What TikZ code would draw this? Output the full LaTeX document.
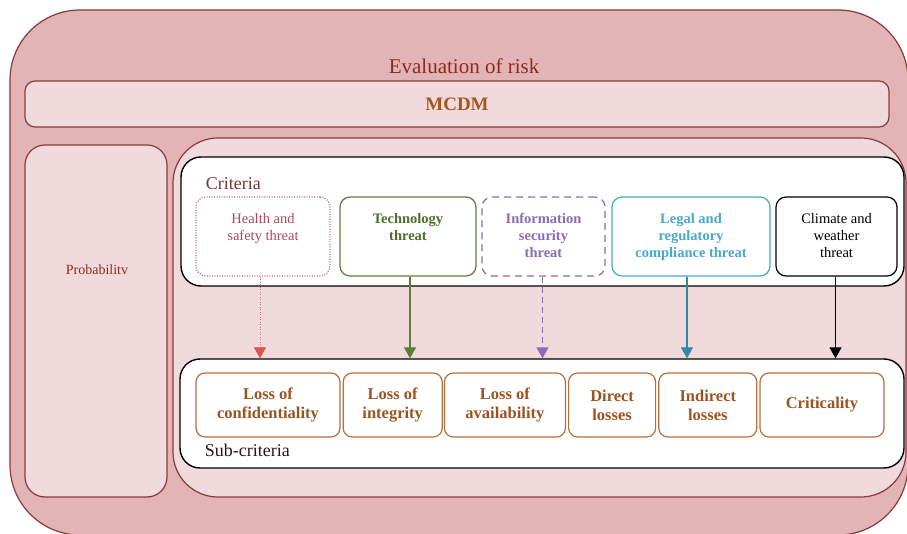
\documentclass[tikz,border=0pt]{standalone}
\usepackage{fontspec}
\setmainfont{Liberation Serif}
\usepackage{tikz}
\usetikzlibrary{arrows.meta,positioning}

\definecolor{riskpink}{HTML}{E3B4B6}
\definecolor{palepink}{HTML}{F1DADB}
\definecolor{riskline}{HTML}{8A3A3A}
\definecolor{risktext}{HTML}{8B2B20}
\definecolor{mcdmtext}{HTML}{A3561E}
\definecolor{healthcol}{HTML}{C46A78}
\definecolor{healthtxt}{HTML}{B04A5A}
\definecolor{healtharr}{HTML}{D9534F}
\definecolor{techcol}{HTML}{5C7D35}
\definecolor{techtxt}{HTML}{4E6E2A}
\definecolor{infocol}{HTML}{8B6BB8}
\definecolor{legalcol}{HTML}{45AACB}
\definecolor{legalarr}{HTML}{2E8BA8}
\definecolor{subcol}{HTML}{B5703F}
\definecolor{subtxt}{HTML}{9C5322}

\begin{document}
\begin{tikzpicture}[x=1pt,y=-1pt,>={Triangle[length=11pt,width=12pt]},line width=1.2pt]
	\tikzset{
		frame/.style={draw=riskline,fill=palepink,rounded corners=#1},
		group/.style={draw=black,fill=white,rounded corners=20pt,line width=1.4pt},
		critbox/.style={rounded corners=10pt,minimum height=79pt,fill=white},
		crittext/.style={align=center,inner sep=0pt,font=\fontsize{14.5}{17}\selectfont},
		subbox/.style={draw=subcol,rounded corners=9pt,minimum height=64pt,align=center,inner sep=0pt,
			font=\fontsize{16.5}{19}\selectfont\bfseries,text=subtxt}
	}
	\useasboundingbox (0,0) rectangle (907,534);
	\clip (0,0) rectangle (907,534);

	% outer and inner regions
	\draw[riskline,fill=riskpink,rounded corners=70pt] (10,10) rectangle (908,535);
	\draw[frame=45pt] (173,138) rectangle (906,497);
	\node[text=risktext,font=\fontsize{21}{24}\selectfont] (title) at (464,66) {Evaluation of risk};

	\node[frame=10pt,minimum width=864pt,minimum height=46pt,text=mcdmtext,font=\fontsize{19}{22}\selectfont\bfseries] (mcdm) at (457,104) {MCDM};

	\node[frame=20pt,minimum width=142pt,minimum height=352pt] (prob) at (96,321) {};
	\node[text=risktext,font=\fontsize{14}{16}\selectfont] (probtext) at (97,270) {Probabilitv};

	% criteria
	\node[group,minimum width=723pt,minimum height=129pt] (crit) at (542.5,221.5) {};
	\node[anchor=base west,text=riskline!90!black,font=\fontsize{18}{20}\selectfont] (critlabel) at (202,190) {Criteria};

	\node[critbox,draw=healthcol,dash pattern=on 1pt off 1.5pt,minimum width=134pt] (health) at (263,236.5) {};
	\node[critbox,draw=techcol,minimum width=136pt] (tech) at (408,236.5) {};
	\node[critbox,draw=infocol,dash pattern=on 7pt off 5pt,minimum width=123pt] (info) at (543.5,236.5) {};
	\node[critbox,draw=legalcol,minimum width=158pt] (legal) at (691,236.5) {};
	\node[critbox,draw=black,minimum width=121pt] (climate) at (836.5,236.5) {};

	\node[crittext,text=healthtxt,anchor=north,below=16pt of health.north] (healthtext) {Health and\\safety threat};
	\node[crittext,text=techtxt,font=\fontsize{14.5}{17}\selectfont\bfseries,anchor=north,below=16pt of tech.north] (techtext) {Technology\\threat};
	\node[crittext,text=infocol,font=\fontsize{14.5}{17}\selectfont\bfseries,anchor=north,below=16pt of info.north] (infotext) {Information\\security\\threat};
	\node[crittext,text=legalcol,font=\fontsize{14.5}{17}\selectfont\bfseries,anchor=north,below=16pt of legal.north] (legaltext) {Legal and\\regulatory\\compliance threat};
	\node[crittext,anchor=north,below=16pt of climate.north] (climatetext) {Climate and\\weather\\threat};

	% sub-criteria
	\node[group,minimum width=724pt,minimum height=109pt] (sub) at (542,413.5) {};
	\node[anchor=base west,text=black!65!riskline,font=\fontsize{18}{20}\selectfont] (sublabel) at (201,456) {Sub-criteria};

	\node[subbox,minimum width=144pt] (conf) at (268,405) {Loss of\\confidentiality};
	\node[subbox,minimum width=99pt,right=2pt of conf] (integ) {Loss of\\integrity};
	\node[subbox,minimum width=121pt,right=1pt of integ] (avail) {Loss of\\availability};
	\node[subbox,minimum width=87pt,right=2pt of avail] (direct) {Direct\\losses};
	\node[subbox,minimum width=98pt,right=2pt of direct] (indirect) {Indirect\\losses};
	\node[subbox,minimum width=124pt,right=2pt of indirect] (critic) {Criticality};

	% links
	\draw[healthcol,dash pattern=on 1pt off 1.5pt,line width=1pt,-{Triangle[length=11pt,width=12pt,color=healtharr]}] ([xshift=-3pt]health.south) -- ([xshift=-3pt]health.south |- sub.north);
	\draw[->,techcol] ([xshift=2pt]tech.south) -- ([xshift=2pt]tech.south |- sub.north);
	\draw[->,infocol,dash pattern=on 6pt off 4pt] ([xshift=-1pt]info.south) -- ([xshift=-1pt]info.south |- sub.north);
	\draw[->,legalarr] ([xshift=-4pt]legal.south) -- ([xshift=-4pt]legal.south |- sub.north);
	\draw[->,black] ([xshift=-1pt]climate.south) -- ([xshift=-1pt]climate.south |- sub.north);
\end{tikzpicture}
\end{document}
